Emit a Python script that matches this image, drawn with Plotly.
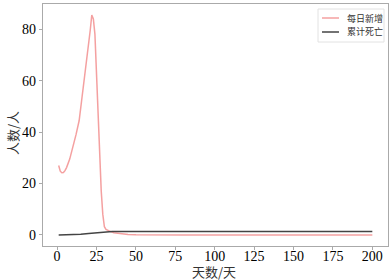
import plotly.graph_objects as go

# Daily new cases (每日新增)
new_days = [1, 2, 3, 4, 5, 6, 8, 10, 12, 14, 16, 18, 20, 21, 22, 23, 24, 25, 26, 27, 28, 29, 30, 31, 32, 34, 36, 40, 45, 50, 60, 80, 100, 125, 150, 175, 200]
new_vals = [27.0, 24.8, 24.2, 24.3, 25.0, 26.2, 29.5, 34.0, 39.0, 44.5, 54.0, 64.0, 74.0, 79.5, 85.5, 84.0, 78.0, 63.0, 48.0, 29.0, 17.0, 8.0, 3.2, 2.2, 1.8, 1.3, 0.9, 0.5, 0.2, 0.1, 0.0, 0.0, 0.0, 0.0, 0.0, 0.0, 0.0]

# Cumulative deaths (累计死亡)
death_days = [1, 5, 10, 15, 20, 25, 30, 35, 40, 50, 100, 150, 200]
death_vals = [0.0, 0.05, 0.15, 0.3, 0.55, 0.9, 1.25, 1.35, 1.38, 1.4, 1.4, 1.4, 1.4]

x_ticks = [0, 25, 50, 75, 100, 125, 150, 175, 200]
y_ticks = [0, 20, 40, 60, 80]

series_names = ["每日新增", "累计死亡"]
series_colors = ["rgba(240,128,128,0.75)", "#444444"]

SERIF = "Liberation Serif"
CJK = "Noto Sans CJK SC"

fig = go.Figure()
fig.add_trace(go.Scatter(x=new_days, y=new_vals, mode="lines", name=series_names[0],
                         line=dict(color=series_colors[0], width=1.5), showlegend=False))
fig.add_trace(go.Scatter(x=death_days, y=death_vals, mode="lines", name=series_names[1],
                         line=dict(color=series_colors[1], width=1.5), showlegend=False))

axis_common = dict(showline=True, linecolor="#aaaaaa", linewidth=1.2, mirror=True,
                   showgrid=False, zeroline=False, ticks="outside", ticklen=3,
                   tickcolor="#aaaaaa", automargin=False,
                   tickfont=dict(family=SERIF, size=14, color="black"))

# plot area: x 43..388, y 4..246 (px)
L, R, T, B = 43, 388, 4, 246
def px_x(px):
    return (px - L) / (R - L)
def px_y(py):
    return (B - py) / (B - T)

shapes = [
    dict(type="rect", xref="paper", yref="paper",
         x0=px_x(318), x1=px_x(384), y0=px_y(42), y1=px_y(9),
         line=dict(color="#e2e2e2", width=1), fillcolor="white", layer="above"),
]
annotations = []
for i, (nm, col) in enumerate(zip(series_names, series_colors)):
    yy = 18 + 14 * i
    shapes.append(dict(type="line", xref="paper", yref="paper",
                       x0=px_x(322), x1=px_x(339), y0=px_y(yy), y1=px_y(yy),
                       line=dict(color=col, width=1.5), layer="above"))
    annotations.append(dict(text=nm, xref="paper", yref="paper", x=px_x(345), y=px_y(yy),
                            xanchor="left", yanchor="middle", showarrow=False,
                            font=dict(family=CJK, size=9, color="#333333")))

annotations.append(dict(text="天数/天", xref="paper", yref="paper", x=px_x(214), y=px_y(271),
                        xanchor="center", yanchor="middle", showarrow=False,
                        font=dict(family=CJK, size=13, color="#333333")))
annotations.append(dict(text="人数/人", xref="paper", yref="paper", x=px_x(12), y=px_y(133),
                        xanchor="center", yanchor="middle", showarrow=False, textangle=-90,
                        font=dict(family=CJK, size=13, color="#333333")))

fig.update_layout(
    width=392, height=280,
    margin=dict(l=L, r=392 - R, t=T, b=280 - B, autoexpand=False),
    plot_bgcolor="white", paper_bgcolor="white",
    showlegend=False,
    xaxis=dict(range=[-8.95, 209.95], tickvals=x_ticks, ticklabelstandoff=-6, **axis_common),
    yaxis=dict(range=[-4.28, 89.8], tickvals=y_ticks, **axis_common),
    shapes=shapes, annotations=annotations,
)

fig.write_html("out.html", config={"displayModeBar": False},
               post_script="document.body.style.margin='0';document.body.style.overflow='hidden';")
